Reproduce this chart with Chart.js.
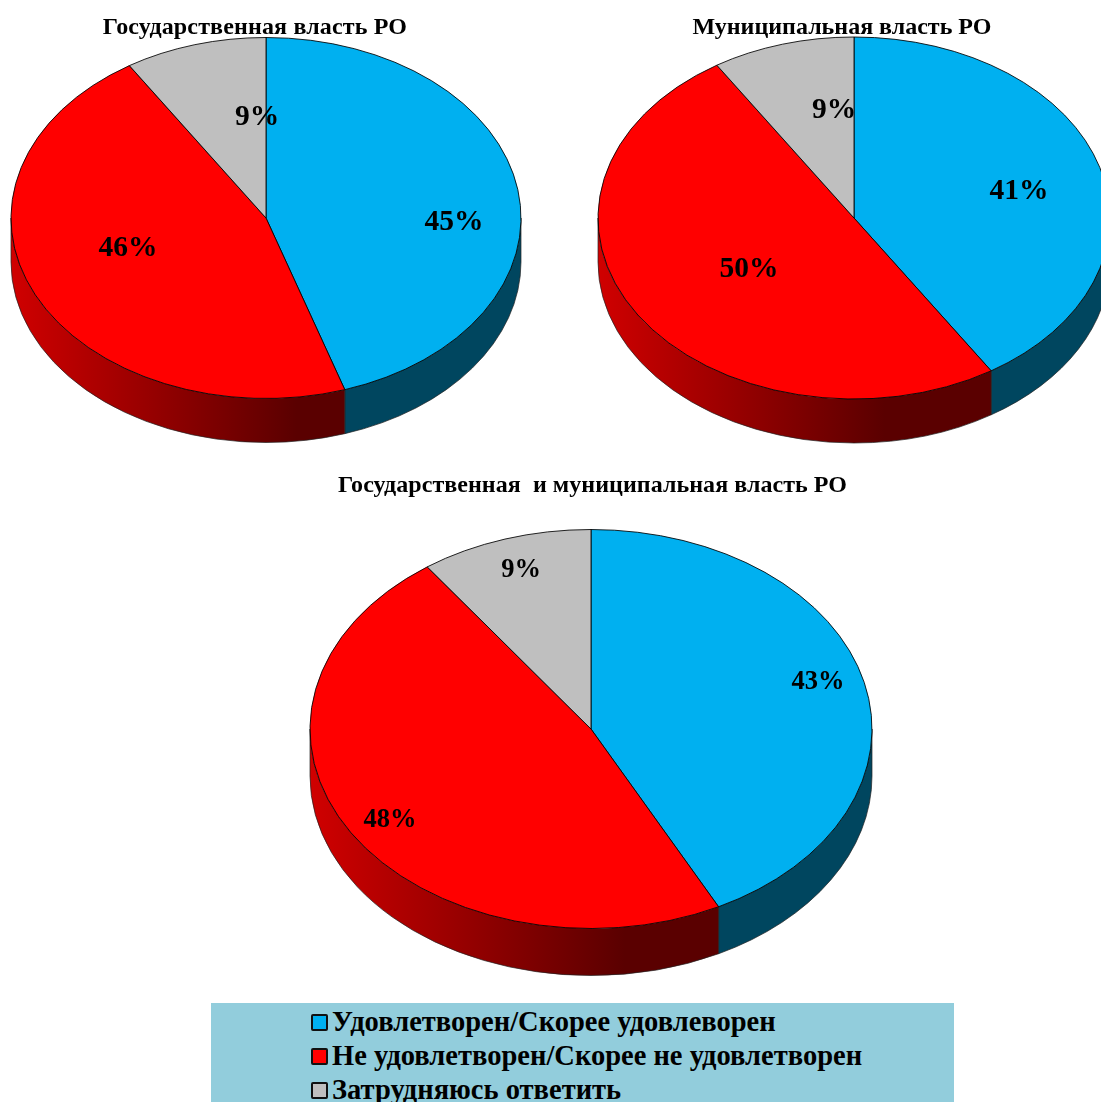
<!DOCTYPE html>
<html lang="ru">
<head>
<meta charset="utf-8">
<title>Удовлетворенность властью РО</title>
<script src="https://cdn.jsdelivr.net/npm/chart.js@4/dist/chart.umd.min.js"></script>
<style>
  html, body { margin: 0; padding: 0; background: #fff; }
  body { position: relative; width: 1101px; height: 1102px; overflow: hidden; font-family: "Liberation Serif", serif; color: #000; }
  canvas { position: absolute; }
  .title { position: absolute; font-weight: bold; font-size: 24px; white-space: pre; transform: translateX(-50%); z-index: 2; line-height: 1; }
  #legend { position: absolute; left: 211px; top: 1003px; width: 743px; height: 99px; background: #92cddc; z-index: 3; overflow: hidden; }
  .row { position: absolute; left: 100px; display: flex; align-items: center; height: 34px; font-weight: bold; font-size: 28.5px; white-space: pre; }
  .box { display: inline-block; width: 13px; height: 13px; border: 2px solid #111; border-radius: 2px; margin-right: 4px; }
</style>
</head>
<body>
<div id="legend"></div>
<script>
// Data
const categories = ['Удовлетворен/Скорее удовлеворен', 'Не удовлетворен/Скорее не удовлетворен', 'Затрудняюсь ответить'];
const stateValues = [45, 46, 9];
const municipalValues = [41, 50, 9];
// slices of the third pie are drawn a bit off from their printed labels in the original
const bothValues = [42.5, 47.6, 9.9];
const stateLabels = ['45%', '46%', '9%'];
const municipalLabels = ['41%', '50%', '9%'];
const bothLabels = ['43%', '48%', '9%'];
const stateTitle = 'Государственная власть РО';
const municipalTitle = 'Муниципальная власть РО';
const bothTitle = 'Государственная  и муниципальная власть РО';

// Colours
const topColors = ['#00b0f0', '#ff0000', '#bfbfbf'];

// Layout of each pie: centre on the page, radii, wall depth, label offsets from the centre
const pies = [
  { id: 'state', values: stateValues, labels: stateLabels, title: stateTitle, titleX: 255, titleY: 14, titleSpacing: 0.15,
    cx: 266, cy: 218, rx: 255, ry: 180.5, depth: 44, labelSize: 29.5,
    labelOffsets: [[188, 4], [-138, 30], [-9, -101]] },
  { id: 'municipal', values: municipalValues, labels: municipalLabels, title: municipalTitle, titleX: 842, titleY: 14, titleSpacing: 0,
    cx: 854, cy: 218, rx: 256, ry: 181, depth: 44, labelSize: 29.5,
    labelOffsets: [[165, -27], [-105, 51], [-20, -108]] },
  { id: 'both', values: bothValues, labels: bothLabels, title: bothTitle, titleX: 592.5, titleY: 472, titleSpacing: 0.05,
    cx: 591, cy: 729, rx: 281, ry: 199.5, depth: 47, labelSize: 26.5,
    labelOffsets: [[227, -47], [-201, 91], [-70, -159]] }
];

// Draws the side wall under the arcs, squashes the circle to an ellipse, then puts the % labels on top
const pie3d = {
  id: 'pie3d',
  beforeDatasetsDraw(chart, args, opts) {
    const ctx = chart.ctx;
    const arcs = chart.getDatasetMeta(0).data;
    const { x, y, outerRadius: rx } = arcs[0].getProps(['x', 'y', 'outerRadius'], true);
    const ry = opts.ry;

    arcs.forEach((arc, i) => {
      const a0 = Math.max(arc.startAngle, 0);
      const a1 = Math.min(arc.endAngle, Math.PI);
      if (a1 <= a0) return;
      ctx.beginPath();
      ctx.ellipse(x, y, rx, ry, 0, a0, a1);
      ctx.ellipse(x, y + opts.depth, rx, ry, 0, a1, a0, true);
      ctx.closePath();
      if (i === 1) {
        const grad = ctx.createLinearGradient(x - rx, 0, x + rx * 0.12, 0);
        grad.addColorStop(0, '#d00000');
        grad.addColorStop(1, '#5a0000');
        ctx.fillStyle = grad;
      } else {
        ctx.fillStyle = i === 0 ? '#00465f' : '#4c4c4c';
      }
      ctx.fill();
      ctx.lineWidth = 0.7;
      ctx.strokeStyle = '#222';
      ctx.stroke();
    });

    ctx.save();
    ctx.translate(x, y);
    ctx.scale(1, ry / rx);
    ctx.translate(-x, -y);
  },
  afterDatasetsDraw(chart, args, opts) {
    const ctx = chart.ctx;
    ctx.restore();
    const { x, y } = chart.getDatasetMeta(0).data[0];
    ctx.save();
    ctx.font = `bold ${opts.labelSize}px "Liberation Serif", serif`;
    ctx.fillStyle = '#000';
    ctx.textAlign = 'center';
    ctx.textBaseline = 'middle';
    opts.labels.forEach((text, i) => {
      const off = opts.labelOffsets[i];
      ctx.fillText(text, x + off[0], y + off[1]);
    });
    ctx.restore();
  }
};

pies.forEach(p => {
  const size = 2 * (p.rx + 6);
  const canvas = document.createElement('canvas');
  canvas.id = p.id;
  canvas.width = size;
  canvas.height = size;
  canvas.style.left = (p.cx - size / 2) + 'px';
  canvas.style.top = (p.cy - size / 2) + 'px';
  canvas.style.width = size + 'px';
  canvas.style.height = size + 'px';
  document.body.appendChild(canvas);

  const title = document.createElement('div');
  title.className = 'title';
  title.textContent = p.title;
  title.style.left = p.titleX + 'px';
  title.style.top = p.titleY + 'px';
  title.style.letterSpacing = p.titleSpacing + 'px';
  document.body.appendChild(title);

  new Chart(canvas.getContext('2d'), {
    type: 'pie',
    data: {
      labels: categories,
      datasets: [{
        data: p.values,
        backgroundColor: topColors,
        borderColor: '#000',
        borderWidth: 1
      }]
    },
    options: {
      responsive: false,
      animation: false,
      radius: p.rx,
      layout: { padding: 0 },
      events: [],
      plugins: {
        legend: { display: false },
        tooltip: { enabled: false },
        pie3d: { ry: p.ry, depth: p.depth, labelSize: p.labelSize, labelOffsets: p.labelOffsets, labels: p.labels }
      }
    },
    plugins: [pie3d]
  });
});

// Legend box
const legendEl = document.getElementById('legend');
categories.forEach((name, i) => {
  const row = document.createElement('div');
  row.className = 'row';
  row.style.top = (2 + i * 34) + 'px';
  row.innerHTML = `<span class="box" style="background:${topColors[i]}"></span>${name}`;
  legendEl.appendChild(row);
});
</script>
</body>
</html>
